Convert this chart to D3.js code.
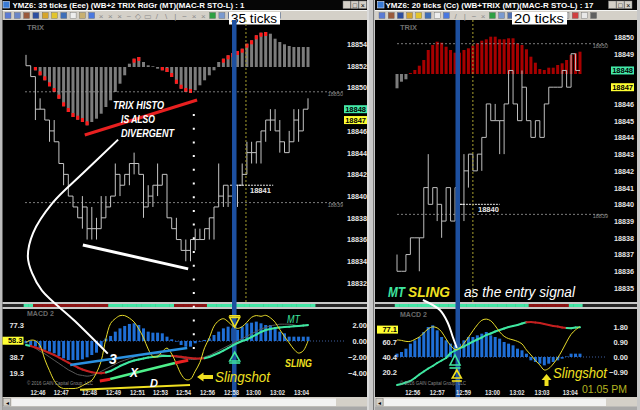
<!DOCTYPE html>
<html>
<head>
<meta charset="utf-8">
<script src="https://cdn.jsdelivr.net/npm/d3@7/dist/d3.min.js"></script>
<style>
  html, body { margin:0; padding:0; background:#000; overflow:hidden; }
  svg { display:block; }
  text { font-family: "Liberation Sans", Arial, sans-serif; }
</style>
</head>
<body>
<div id="chart"></div>
<script>
// ================= DATA =================
const leftTitle = "YMZ6: 35 ticks (Eee) (WB+2 TRIX RdGr (MT)(MAC-R STO-L) : 1";
const rightTitle = "YMZ6: 20 ticks (Cc)  (WB+TRIX (MT)(MAC-R STO-L) : 17";
const leftTicksLabel = "35 ticks";
const rightTicksLabel = "20 ticks";

// left chart (35 ticks) – price bars
const leftLow   = [18852,18851,18847,18848,18847,18845,18845,18843,18841,18840,18839,18838,18837,18836,18836,18836,18837,18838,18839,18840,18840,18841,18841,18842,18842,18838,18839,18839,18840,18841,18838,18837,18836,18835,18834,18834,18835,18836,18836,18836,18836,18839,18839,18839,18839,18839,18841,18842,18843,18843,18843,18845,18846,18846,18844,18844,18844,18845,18845,18847,18848];
const leftHigh  = [18853,18852,18851,18849,18848,18847,18847,18845,18843,18842,18840,18839,18840,18839,18839,18838,18840,18840,18840,18843,18842,18842,18843,18844,18843,18842,18841,18841,18843,18842,18842,18838,18838,18836,18836,18836,18837,18837,18837,18838,18839,18843,18841,18841,18841,18841,18843,18845,18845,18845,18846,18847,18848,18848,18847,18845,18846,18848,18848,18848,18849];
const leftClose = [18852,18851,18848,18848,18847,18846,18845,18843,18842,18840,18839,18838,18839,18837,18837,18837,18838,18839,18840,18842,18841,18842,18843,18843,18842,18839,18840,18841,18841,18842,18838,18837,18836,18835,18835,18836,18836,18836,18837,18838,18839,18840,18841,18840,18841,18841,18842,18844,18844,18845,18846,18847,18847,18846,18845,18844,18845,18847,18846,18848,18848];
// left TRIX histogram (starts at bar index 2)
const leftTrixStart = 2;
const leftTrix = [-0.33,-0.83,-1.33,-1.93,-2.5,-3.17,-3.93,-4.5,-5.0,-5.27,-5.5,-5.83,-5.5,-5.17,-4.67,-4.0,-3.33,-2.5,-1.67,-0.83,0.33,0.83,1.0,0.5,0.17,0.07,-0.17,-0.33,-0.5,-1.0,-1.67,-2.17,-2.5,-2.6,-2.33,-1.83,-1.33,-0.83,-0.33,0.5,0.83,1.17,1.4,1.6,1.83,2.33,2.67,3.17,3.43,3.5,3.33,2.83,2.5,2.27,2.1,2.0,2.0,2.0,2.0];
// left MACD pane
const leftHist   = [-0.29,-0.5,-0.7,-0.92,-1.1,-1.33,-1.54,-1.88,-2.17,-2.38,-2.38,-2.38,-2.3,-2.04,-1.75,-1.46,-0.7,0.3,0.63,1.17,1.58,1.88,2.13,2.21,2.0,1.58,1.17,1.04,1.04,0.96,0.54,0.21,-0.08,-0.5,-0.71,-0.71,-0.29,-0.08,0.13,0.33,0.75,1.17,1.58,1.79,1.58,1.38,1.79,2.21,2.29,2.42,2.21,2.0,2.0,1.58,1.17,0.96,0.54,0.54,0.54,0.54,0.54];
const leftStoch  = [56.4,58.9,58.3,52.4,35.7,22.1,10.2,3.1,0.5,0.5,0.5,1.2,4,7,10.5,19.6,33.9,60.7,79.1,85,88.6,88.6,85.6,80.9,72.6,61.9,48.2,39.2,39.2,45.2,49.4,42.3,30.4,17.9,11.3,11.9,21.4,32.1,49.8,61.7,75.9,82.5,84.9,81.3,76,73.2,75.3,80.6,86.6,88.7,87.8,89,86,80.6,71.7,63.4,55.7,48,43.4,46.2,58];
const leftMT     = [-0.5,-0.63,-0.81,-1.0,-1.25,-1.5,-1.75,-2.06,-2.38,-2.69,-3.0,-3.31,-3.56,-3.75,-3.91,-4.0,-4.04,-3.94,-3.75,-3.44,-3.13,-2.88,-2.63,-2.44,-2.31,-2.19,-2.06,-2.0,-1.94,-1.88,-1.88,-1.88,-1.91,-1.96,-2.06,-2.13,-2.19,-2.19,-2.16,-2.0,-1.75,-1.5,-1.19,-0.88,-0.56,-0.25,0.0,0.19,0.5,0.81,1.13,1.38,1.5,1.63,1.69,1.75,1.79,1.84,1.88,1.94,2.0];
const leftSignal = [-0.5,-0.6,-0.9,-1.3,-1.6,-2.0,-2.4,-2.8,-3.2,-3.6,-3.9,-4.2,-4.3,-4.4,-4.3,-4.1,-3.8,-3.5,-3.2,-2.9,-2.6,-2.4,-2.2,-2.0,-1.8,-1.7,-1.6,-1.6,-1.6,-1.7,-1.8,-1.9,-2.0,-2.1,-2.2,-2.3,-2.3,-2.2,-2.0,-1.8,-1.5,-1.2,-0.9,-0.6,-0.3,0.0,0.3,0.6,0.9,1.2,1.5,1.7,1.9,2.0,2.1,2.1,2.1,2.0,1.9,1.9,1.9];
const leftTrend  = "ggrrrrrrrrrrrrrrrrggggggggggggggrrrrrrrggggggggggggggggggggggg".split("");
const leftTimeLabels = ["12:46","12:47","12:48","12:49","12:51","12:53","12:54","12:56","12:58","13:00","13:02","13:04"];
const leftTimeIdx    = [2.45, 7.4, 13.4, 18.5, 23.6, 28.5, 33.4, 38.5, 43.6, 48.3, 53.4, 58.5];
const leftPriceTicks = [18854,18852,18850,18846,18844,18842,18840,18838,18836,18834,18832];
const leftPriceBoxes = [18848, 18847];
const leftStochTicks = [77.3, 38.7, 19.3];
const leftStochBox = 58.3;
const leftMacdTicks = [2, 0, -2, -4];

// right chart (20 ticks)
const rightLow   = [18836,18836,18836,18837,18838,18836,18839,18840,18840,18839,18838,18839,18839,18839,18839,18839,18841,18842,18842,18842,18844,18845,18845,18843,18843,18846,18846,18845,18845,18845,18844,18844,18844,18844,18846,18847,18847,18847,18847,18847,18848,18848];
const rightHigh  = [18837,18836,18837,18838,18838,18838,18841,18843,18841,18841,18840,18841,18841,18841,18840,18843,18843,18843,18843,18844,18846,18846,18846,18845,18846,18848,18848,18846,18848,18846,18845,18845,18845,18846,18847,18847,18847,18848,18848,18849,18849,18848];
const rightClose = [18836,18836,18837,18838,18838,18838,18841,18840,18841,18840,18839,18841,18839,18841,18840,18842,18843,18842,18843,18844,18846,18845,18845,18845,18846,18848,18846,18845,18847,18845,18844,18845,18844,18846,18847,18847,18847,18848,18847,18849,18848,18848];
const rightTrix  = [-1.43,-0.77,-0.53,0.1,0.4,0.83,1.4,2.4,2.9,3.23,3.13,2.73,2.4,2.13,2.13,2.4,2.57,2.83,3.07,3.33,3.47,3.73,3.73,3.47,3.47,3.57,3.57,3.07,2.9,2.47,1.73,1.13,0.5,0.4,0.63,0.63,0.9,1.07,1.4,1.9,2.07,2.23];
const rightHist  = [0.2,0.3,0.5,0.8,1.0,1.2,1.5,1.8,1.9,1.6,1.2,1.0,0.8,0.7,0.8,1.0,1.2,1.2,1.3,1.4,1.5,1.3,1.2,1.1,0.9,0.8,0.7,0.5,0.4,0.2,-0.2,-0.3,-0.4,-0.5,-0.4,-0.3,-0.2,-0.1,0.03,0.2,0.2,0.2];
const rightStoch = [63.3,62.6,61.3,61.3,64.0,67.3,72.7,78.1,80.8,79.4,74.1,64.6,55.9,50.5,51.9,58.6,66.7,75.4,83.5,89.6,91.2,88.9,82.2,74.1,68.1,65.0,63.3,61.3,57.9,49.8,43.1,35.7,29.6,22.9,24.9,31.0,39.1,49.2,60.6,70.7,76.8,81.2];
const rightMT    = [-1.68,-1.62,-1.53,-1.44,-1.26,-1.05,-0.87,-0.69,-0.54,-0.36,-0.21,-0.06,0.24,0.39,0.52,0.63,0.78,0.92,1.05,1.17,1.32,1.41,1.53,1.62,1.71,1.80,1.86,1.92,2.01,2.08,2.10,2.07,2.04,1.98,1.92,1.86,1.83,1.77,1.74,1.72,1.77,1.78];
const rightTrend = "ggggggggggggggggggggggggggggggrrrrrrrrrggg".split("");
const rightTimeLabels = ["12:56","12:57","12:59","13:00","13:02","13:03","13:04"];
const rightTimeIdx    = [3.4, 8.9, 14.8, 21.3, 26.8, 32.4, 38.7];
const rightPriceTicks = [18850,18849,18846,18845,18844,18843,18842,18841,18840,18839,18838,18837,18836,18835];
const rightPriceBoxes = [18848, 18847];
const rightStochTicks = [60.7, 40.4, 20.2];
const rightStochBox = 77.1;
const rightMacdTicks = [1.8, 0.9, 0, -0.9];

// reference lines / markers (data coordinates)
const leftRefLines = [{v:18849.6, label:"18850"}, {v:18839.4, label:"18839"}];
const rightRefLines = [{v:18849.6, label:"18850"}, {v:18839.4, label:"18839"}];
const leftEntry = {from:43.4, to:52.6, v:18841, label:"18841"};
const rightEntry = {from:14.1, to:23, v:18840, label:"18840"};
const leftSignalBar = 44.3, rightSignalBar = 13.6;
const leftCursor = 46.8, rightCursor = 17;
const leftDotted = 35.7;

// annotations (data coordinates)
const trixDivergence  = [[12.5,-6.8],[36.4,-3.3]];
const priceDivergence = [[12.1,18835.5],[34.5,18833.3]];
const bigCurve = [[19.6,18845.2],[12.1,18842.1],[5.7,18839.4],[1.5,18836.6],[0.4,18834.4],[1.3,18832.9],[3.4,18831.3],[10.4,18828.5],[17.4,18825.5]];
const line3 = [[9.4,-3.0],[34.3,-0.88]];
const lineX = [[17.9,-4.75],[31.7,-2.75]];
const lineXRed = [[[15.7,-5.0],[17.9,-4.78]],[[31.7,-2.75],[34.5,-2.4]]];
const lineD = [[11.5,-6.1],[34.9,-5.5]];
const rightCurve = [[5.8,3.42],[9.6,2.82],[11.4,2.04],[12.5,1.2],[13.4,0.54]];

// ================= DRAWING =================
const W = 640, H = 410;
const svg = d3.select("#chart").append("svg").attr("width", W).attr("height", H);
svg.append("rect").attr("width", W).attr("height", H).attr("fill", "#000");

const xL = d3.scaleLinear().domain([0,60]).range([26,308]);
const xR = d3.scaleLinear().domain([0,41]).range([397,580]);
const yPL = d3.scaleLinear().domain([18832,18854]).range([283,44]);
const yPR = d3.scaleLinear().domain([18835,18850]).range([288,37]);
const yTL = d3.scaleLinear().domain([0,1]).range([67,57]);
const yTR = d3.scaleLinear().domain([0,1]).range([74,64]);
const yML = d3.scaleLinear().domain([-4,2]).range([373,325]);
const ySL = d3.scaleLinear().domain([19.3,77.3]).range([373,325]);
const yMR = d3.scaleLinear().domain([-0.9,1.8]).range([372,327]);
const ySR = d3.scaleLinear().domain([20.2,77.1]).range([372,329.6]);

const YEL = "#e8dc2a";
const stripCol = {g:"#44e6a6", r:"#8c1414"};
const mtCol = {g:"#3fe6a0", r:"#c42020"};

// ---------- window chrome ----------
function chrome(c) {
  const g = svg.append("g");
  const w = c.x1 - c.x0;
  g.append("rect").attr("x", c.x0).attr("y", 0).attr("width", w).attr("height", 10).attr("fill", "#060606");
  g.append("rect").attr("x", c.iconX).attr("y", 1.5).attr("width", 6.5).attr("height", 6.5).attr("fill", "#3a7bd5").attr("stroke", "#d8e6ff").attr("stroke-width", 0.6);
  g.append("text").attr("x", c.titleX).attr("y", 8).attr("fill", "#fff").attr("font-size", 8).attr("font-weight", "bold")
    .attr("textLength", c.titleLen).attr("lengthAdjust", "spacingAndGlyphs").text(c.title);
  ["_", "\u25A1", "\u00D7"].forEach((s, k) => {
    const bx = c.btnX + k * 8;
    g.append("rect").attr("x", bx).attr("y", 1).attr("width", 7.5).attr("height", 7.5).attr("fill", "#d4d0c8").attr("stroke", "#808080").attr("stroke-width", 0.5);
    g.append("text").attr("x", bx + 3.75).attr("y", 7.5).attr("text-anchor", "middle").attr("font-size", 7).attr("fill", "#000").text(s);
  });
  g.append("rect").attr("x", c.x0).attr("y", 10).attr("width", w).attr("height", 10).attr("fill", "#d4d0c8");
  g.append("line").attr("x1", c.x0).attr("x2", c.x1).attr("y1", 10.5).attr("y2", 10.5).attr("stroke", "#fff").attr("stroke-width", 0.8);
  c.icons.forEach((ic, k) => {
    const ix = c.iconStart + k * c.iconStep;
    if (ic.startsWith("#")) {
      g.append("rect").attr("x", ix).attr("y", 12.5).attr("width", 6).attr("height", 6).attr("fill", ic).attr("stroke", "#6a6a6a").attr("stroke-width", 0.4);
    } else {
      g.append("text").attr("x", ix + 3).attr("y", 18.5).attr("text-anchor", "middle").attr("font-size", 8).attr("fill", "#8a8a8a").text(ic);
    }
  });
  g.append("rect").attr("x", c.tickBoxX).attr("y", 12).attr("width", c.tickBoxW).attr("height", 12.5).attr("fill", "#fff");
  g.append("text").attr("x", c.tickBoxX + 2).attr("y", 22.5).attr("font-size", 12).attr("fill", "#000")
    .attr("textLength", c.tickBoxW - 5).attr("lengthAdjust", "spacingAndGlyphs").text(c.ticksLabel);
  g.append("rect").attr("x", c.x0).attr("y", 302).attr("width", w).attr("height", 7).attr("fill", "#c8c8c8");
  g.append("rect").attr("x", c.x0).attr("y", 304).attr("width", w).attr("height", 3).attr("fill", "#262626");
  g.append("rect").attr("x", c.x0).attr("y", 397).attr("width", w).attr("height", 13).attr("fill", "#d4d0c8");
  g.append("rect").attr("x", c.x0 + 9).attr("y", 398.5).attr("width", w - 40).attr("height", 7.5).attr("fill", "#f2f2f2");
  g.append("rect").attr("x", c.x0 + 1).attr("y", 398.5).attr("width", 7).attr("height", 7.5).attr("fill", "#d4d0c8").attr("stroke", "#808080").attr("stroke-width", 0.5);
  g.append("text").attr("x", c.x0 + 4.5).attr("y", 405).attr("text-anchor", "middle").attr("font-size", 6).attr("fill", "#000").text("\u25C2");
  g.append("rect").attr("x", c.x0).attr("y", 406.5).attr("width", w).attr("height", 3.5).attr("fill", "#a8a8a8");
}

svg.append("rect").attr("x", 0).attr("y", 0).attr("width", 2.5).attr("height", H).attr("fill", "#bdbdbd");
svg.append("rect").attr("x", 367).attr("y", 0).attr("width", 8).attr("height", H).attr("fill", "#c8c8c8");
svg.append("line").attr("x1", 368).attr("x2", 368).attr("y1", 0).attr("y2", H).attr("stroke", "#eeeeee");
svg.append("line").attr("x1", 373.5).attr("x2", 373.5).attr("y1", 0).attr("y2", H).attr("stroke", "#7a7a7a");
svg.append("rect").attr("x", 637).attr("y", 0).attr("width", 3).attr("height", H).attr("fill", "#c8c8c8");

chrome({x0:2.5, x1:367, iconX:3, titleX:12.5, titleLen:232, title:leftTitle, btnX:343,
  icons:["#5b7bd5","#6a86c8","#9a5a3c","#2d4fa0","#d6a52a","#e3c52d","#3f6fb8","#eeeeee","#c8b070","#4a78e0","\u00D7","\u00D7","\u00D7","~","\u25C7","\u25AD","/","\\","|","\u2212","\u00D7","\u00D7","#2ea043","#7a9ad0","#5070b0","#c0c0c0","#d04040","#e8e8e8","#606060","#7a9ad0"],
  iconStart:5, iconStep:9.3, tickBoxX:229, tickBoxW:51, ticksLabel:leftTicksLabel});
chrome({x0:375, x1:637, iconX:377.5, titleX:385.5, titleLen:208, title:rightTitle, btnX:608.5,
  icons:["#5b7bd5","#9a5a3c","#2d4fa0","#d6a52a","#e3c52d","#3f6fb8","#eeeeee","#4a78e0","/","|","\u2212","\u00D7","#2ea043","#7a9ad0","#5070b0","#c0c0c0","#d04040","#e8e8e8","#606060","#7a9ad0","#c0c0c0","#d04040","#e8e8e8","#606060"],
  iconStart:379, iconStep:9.2, tickBoxX:512, tickBoxW:55, ticksLabel:rightTicksLabel});

// ---------- helpers ----------
function drawPrice(g, x, y, lo, hi, cl, color) {
  lo.forEach((l, i) => {
    const prev = i > 0 ? cl[i-1] : cl[i];
    const a = Math.min(l, prev), b = Math.max(hi[i], prev);
    g.append("line").attr("x1", x(i)).attr("x2", x(i)).attr("y1", y(a)).attr("y2", y(b))
      .attr("stroke", color).attr("stroke-width", 1);
    if (i < lo.length - 1)
      g.append("line").attr("x1", x(i)).attr("x2", x(i+1)).attr("y1", y(cl[i])).attr("y2", y(cl[i]))
        .attr("stroke", color).attr("stroke-width", 1);
  });
}
function styleAxis(g, size, color, len) {
  g.select(".domain").remove();
  g.selectAll("text").attr("fill", color).attr("font-size", size).attr("font-weight", "bold")
    .attr("font-family", "Liberation Sans, Arial, sans-serif");
  if (len) g.selectAll("text").attr("textLength", len).attr("lengthAdjust", "spacingAndGlyphs");
}
function valueBox(g, xRight, w, yc, label, fill) {
  g.append("rect").attr("x", xRight - w).attr("y", yc - 4).attr("width", w).attr("height", 8).attr("fill", fill);
  g.append("text").attr("x", xRight - 1).attr("y", yc + 2.7).attr("text-anchor", "end").attr("font-size", 7.5)
    .attr("font-weight", "bold").attr("fill", "#000").text(label);
}
function refLine(g, x1, x2, yv, label, labelX) {
  g.append("line").attr("x1", x1).attr("x2", x2).attr("y1", yv).attr("y2", yv).attr("stroke", "#9a9a9a")
    .attr("stroke-width", 0.8).attr("stroke-dasharray", "2,2");
  g.append("text").attr("x", labelX).attr("y", yv + 4).attr("text-anchor", "end").attr("font-size", 5.5).attr("fill", "#8a8a8a").text(label);
}
function segLine(g, vals, trend, x, y, cols, width) {
  for (let i = 0; i < vals.length - 1; i++) {
    g.append("line").attr("x1", x(i)).attr("y1", y(vals[i])).attr("x2", x(i+1)).attr("y2", y(vals[i+1]))
      .attr("stroke", cols[trend[i+1]]).attr("stroke-width", width).attr("stroke-linecap", "round");
  }
}
function tri(g, cx, yApex, yBase, barY, halfW, color) {
  g.append("path").attr("d", `M${cx},${yApex}L${cx+halfW},${yBase}L${cx-halfW},${yBase}Z`)
    .attr("fill", "none").attr("stroke", color).attr("stroke-width", 1.6);
  g.append("line").attr("x1", cx - halfW - 0.5).attr("x2", cx + halfW + 0.5).attr("y1", barY).attr("y2", barY)
    .attr("stroke", color).attr("stroke-width", 1.6);
}
function txt(g, x, y, s, o) {
  const t = g.append("text").attr("x", x).attr("y", y).attr("fill", o.fill).attr("font-size", o.size)
    .attr("font-style", o.italic ? "italic" : "normal").attr("font-weight", o.bold ? "bold" : "normal").text(s);
  if (o.len) t.attr("textLength", o.len).attr("lengthAdjust", "spacingAndGlyphs");
  if (o.anchor) t.attr("text-anchor", o.anchor);
  return t;
}

// ================= LEFT WINDOW =================
const L = svg.append("g");
txt(L, 27, 30, "TRIX", {fill:"#6e6e6e", size:7.5, bold:true});
const stepL = xL(1) - xL(0);
leftTrix.forEach((v, k) => {
  const i = k + leftTrixStart, x = xL(i) - 1.5;
  const y0 = yTL(0), y1 = yTL(v);
  L.append("rect").attr("x", x).attr("y", Math.min(y0, y1)).attr("width", 3).attr("height", Math.abs(y1 - y0)).attr("fill", "#7c7c7c");
  const prev = k > 0 ? leftTrix[k-1] : 0;
  if (Math.abs(v) > Math.abs(prev) && Math.sign(v) === Math.sign(prev || v)) {
    const h = Math.min(4, Math.abs(y1 - y0));
    L.append("rect").attr("x", x).attr("y", v < 0 ? y1 - h : y1).attr("width", 3).attr("height", h).attr("fill", "#ff1a1a");
  }
});
leftRefLines.forEach(r => refLine(L, 25, 345, yPL(r.v), r.label, 343));
drawPrice(L, xL, yPL, leftLow, leftHigh, leftClose, "#c4c4c4");
L.append("line").attr("x1", xL(leftEntry.from)).attr("x2", xL(leftEntry.to)).attr("y1", yPL(leftEntry.v)).attr("y2", yPL(leftEntry.v))
  .attr("stroke", "#fff").attr("stroke-dasharray", "2,1").attr("stroke-width", 0.9);
txt(L, xL(leftEntry.from) + 20, yPL(leftEntry.v) + 8, leftEntry.label, {fill:"#e8e8e8", size:7.5, bold:true});

const axPL = L.append("g").attr("transform", "translate(368,0)")
  .call(d3.axisLeft(yPL).tickValues(leftPriceTicks).tickSize(0).tickPadding(1).tickFormat(d3.format("d")));
styleAxis(axPL, 7.5, "#e6e6e6", 20);
valueBox(L, 367, 23, yPL(leftPriceBoxes[0]), String(leftPriceBoxes[0]), "#44e8a8");
valueBox(L, 367, 23, yPL(leftPriceBoxes[1]), String(leftPriceBoxes[1]), "#ffff33");

leftTrend.forEach((t, i) => L.append("rect").attr("x", xL(i) - stepL/2).attr("y", 304).attr("width", stepL + 0.4).attr("height", 3).attr("fill", stripCol[t]));

txt(L, 27, 316, "MACD 2", {fill:"#6a6a6a", size:7, bold:true});
L.append("line").attr("x1", 25).attr("x2", 345).attr("y1", yML(0)).attr("y2", yML(0)).attr("stroke", "#3f5f9f").attr("stroke-dasharray", "1,2");
leftHist.forEach((v, i) => {
  const y0 = yML(0), y1 = yML(v);
  L.append("rect").attr("x", xL(i) - 1.5).attr("y", Math.min(y0, y1)).attr("width", 3).attr("height", Math.max(0.5, Math.abs(y1 - y0))).attr("fill", "#1f6fd6");
});
L.append("rect").attr("x", xL(leftSignalBar) - 2.2).attr("y", 20).attr("width", 4.5).attr("height", 377).attr("fill", "#1d50a0");
L.append("line").attr("x1", xL(leftCursor)).attr("x2", xL(leftCursor)).attr("y1", 20).attr("y2", 302).attr("stroke", "#a8a030").attr("stroke-dasharray", "2,2");

L.append("path").datum(leftSignal).attr("d", d3.line().x((d, i) => xL(i)).y(d => yML(d)).curve(d3.curveCatmullRom))
  .attr("fill", "none").attr("stroke", "#5a5a5a").attr("stroke-width", 1);
segLine(L, leftMT, leftTrend, xL, yML, mtCol, 2);
L.append("path").datum(leftStoch).attr("d", d3.line().x((d, i) => xL(i)).y(d => ySL(d)).curve(d3.curveCatmullRom))
  .attr("fill", "none").attr("stroke", YEL).attr("stroke-width", 1);

const axSL = L.append("g").attr("transform", "translate(25,0)")
  .call(d3.axisLeft(ySL).tickValues(leftStochTicks).tickSize(0).tickPadding(1).tickFormat(d3.format(".1f")));
styleAxis(axSL, 7.5, "#e6e6e6");
valueBox(L, 23.5, 21, ySL(leftStochBox), leftStochBox.toFixed(1), "#ffff33");
const axML = L.append("g").attr("transform", "translate(368,0)")
  .call(d3.axisLeft(yML).tickValues(leftMacdTicks).tickSize(0).tickPadding(1).tickFormat(d3.format(".2f")));
styleAxis(axML, 7.5, "#e6e6e6");
const axTL = L.append("g").attr("transform", "translate(0,389)")
  .call(d3.axisBottom(xL).tickValues(leftTimeIdx).tickSize(0).tickPadding(1).tickFormat((d, i) => leftTimeLabels[i]));
styleAxis(axTL, 7.5, "#e6e6e6", 15);
txt(L, 27, 385, "\u00A9 2016 GAIN Capital Group, LLC", {fill:"#8a8a8a", size:4.6, len:66});

// ---------- left annotations ----------
L.append("path").datum(trixDivergence).attr("d", d3.line().x(d => xL(d[0])).y(d => yTL(d[1])))
  .attr("stroke", "#e82020").attr("stroke-width", 3);
L.append("path").datum(priceDivergence).attr("d", d3.line().x(d => xL(d[0])).y(d => yPL(d[1])))
  .attr("stroke", "#fff").attr("stroke-width", 3);
txt(L, 113, 109, "TRIX HISTO", {fill:"#fff", size:11, bold:true, italic:true, len:51});
txt(L, 121, 123, "IS ALSO", {fill:"#fff", size:11, bold:true, italic:true, len:34});
txt(L, 121, 137, "DIVERGENT", {fill:"#fff", size:11, bold:true, italic:true, len:53});
L.append("line").attr("x1", xL(leftDotted)).attr("x2", xL(leftDotted)).attr("y1", 114).attr("y2", 350)
  .attr("stroke", "#fff").attr("stroke-width", 2).attr("stroke-dasharray", "2,11.7");
L.append("path").datum(line3).attr("d", d3.line().x(d => xL(d[0])).y(d => yML(d[1])))
  .attr("stroke", "#2a90e0").attr("stroke-width", 2.5);
L.append("path").datum(lineX).attr("d", d3.line().x(d => xL(d[0])).y(d => yML(d[1])))
  .attr("stroke", "#4ef08a").attr("stroke-width", 2.5);
lineXRed.forEach(seg => L.append("path").datum(seg).attr("d", d3.line().x(d => xL(d[0])).y(d => yML(d[1])))
  .attr("stroke", "#e82020").attr("stroke-width", 3));
L.append("path").datum(lineD).attr("d", d3.line().x(d => xL(d[0])).y(d => yML(d[1])))
  .attr("stroke", "#f0e020").attr("stroke-width", 2);
L.append("path").datum(bigCurve).attr("d", d3.line().x(d => xL(d[0])).y(d => yPL(d[1])).curve(d3.curveCatmullRom.alpha(0.5)))
  .attr("fill", "none").attr("stroke", "#fff").attr("stroke-width", 2);
txt(L, 109, 364, "3", {fill:"#fff", size:14, bold:true, italic:true});
txt(L, 130, 377, "X", {fill:"#fff", size:12, bold:true, italic:true});
txt(L, 150, 386.5, "D", {fill:"#fff", size:11, bold:true, italic:true});
const arrowY = 377;
L.append("path").attr("d", `M${197},${arrowY}L${203.5},${arrowY-4.5}L${203.5},${arrowY-2}L${213},${arrowY-2}L${213},${arrowY+2}L${203.5},${arrowY+2}L${203.5},${arrowY+4.5}Z`).attr("fill", "#f0e020");
txt(L, 215, 382, "Slingshot", {fill:"#f0e020", size:14, italic:true, len:55});
const sx = xL(leftSignalBar) + 0.5;
tri(L, sx, yML(1.75), yML(2.95), yML(3.15), 5, "#f0e020");
tri(L, sx, yML(-1.4), yML(-2.5), yML(-2.75), 5, "#3fe6a0");
txt(L, 287, 323, "MT", {fill:"#3fe6a0", size:10.5, italic:true, len:13});
txt(L, 285, 367, "SLING", {fill:"#f0e020", size:10, bold:true, italic:true, len:27});

// ================= RIGHT WINDOW =================
const R = svg.append("g");
txt(R, 400, 30, "TRIX", {fill:"#6e6e6e", size:7.5, bold:true});
const stepR = xR(1) - xR(0);
rightTrix.forEach((v, i) => {
  const y0 = yTR(0), y1 = yTR(v);
  R.append("rect").attr("x", xR(i) - 1.5).attr("y", Math.min(y0, y1)).attr("width", 3).attr("height", Math.abs(y1 - y0))
    .attr("fill", v < 0 ? "#7c7c7c" : "#a80000");
});
rightRefLines.forEach(r => refLine(R, 397, 607, yPR(r.v), r.label, 608));
drawPrice(R, xR, yPR, rightLow, rightHigh, rightClose, "#bdbdbd");
R.append("line").attr("x1", xR(rightEntry.from)).attr("x2", xR(rightEntry.to)).attr("y1", yPR(rightEntry.v)).attr("y2", yPR(rightEntry.v))
  .attr("stroke", "#fff").attr("stroke-dasharray", "2,1").attr("stroke-width", 0.9);
txt(R, 478, yPR(rightEntry.v) + 8, rightEntry.label, {fill:"#e8e8e8", size:7.5, bold:true});
const axPR = R.append("g").attr("transform", "translate(635,0)")
  .call(d3.axisLeft(yPR).tickValues(rightPriceTicks).tickSize(0).tickPadding(1).tickFormat(d3.format("d")));
styleAxis(axPR, 7.5, "#e6e6e6", 20);
valueBox(R, 634, 23, yPR(rightPriceBoxes[0]), String(rightPriceBoxes[0]), "#44e8a8");
valueBox(R, 634, 23, yPR(rightPriceBoxes[1]), String(rightPriceBoxes[1]), "#ffff33");

rightTrend.forEach((t, i) => R.append("rect").attr("x", xR(i) - stepR/2).attr("y", 304).attr("width", stepR + 0.4).attr("height", 3).attr("fill", stripCol[t]));

txt(R, 400, 317, "MACD 2", {fill:"#6a6a6a", size:7, bold:true});
R.append("line").attr("x1", 397).attr("x2", 605).attr("y1", yMR(0)).attr("y2", yMR(0)).attr("stroke", "#3f5f9f").attr("stroke-dasharray", "1,2");
rightHist.forEach((v, i) => {
  const y0 = yMR(0), y1 = yMR(v);
  R.append("rect").attr("x", xR(i) - 1.5).attr("y", Math.min(y0, y1)).attr("width", 3).attr("height", Math.max(0.5, Math.abs(y1 - y0))).attr("fill", "#1f6fd6");
});
R.append("rect").attr("x", xR(rightSignalBar) - 2.2).attr("y", 20).attr("width", 4.5).attr("height", 377).attr("fill", "#1d50a0");
R.append("line").attr("x1", xR(rightCursor)).attr("x2", xR(rightCursor)).attr("y1", 20).attr("y2", 302).attr("stroke", "#a8a030").attr("stroke-dasharray", "2,2");
segLine(R, rightMT, rightTrend, xR, yMR, mtCol, 2);
R.append("path").datum(rightStoch).attr("d", d3.line().x((d, i) => xR(i)).y(d => ySR(d)).curve(d3.curveCatmullRom))
  .attr("fill", "none").attr("stroke", YEL).attr("stroke-width", 1);

const axSR = R.append("g").attr("transform", "translate(398,0)")
  .call(d3.axisLeft(ySR).tickValues(rightStochTicks).tickSize(0).tickPadding(1).tickFormat(d3.format(".1f")));
styleAxis(axSR, 7.5, "#e6e6e6");
valueBox(R, 398, 21, ySR(rightStochBox), rightStochBox.toFixed(1), "#ffff33");
const axMR = R.append("g").attr("transform", "translate(629,0)")
  .call(d3.axisLeft(yMR).tickValues(rightMacdTicks).tickSize(0).tickPadding(1).tickFormat(d3.format(".2f")));
styleAxis(axMR, 7.5, "#e6e6e6");
const axTR = R.append("g").attr("transform", "translate(0,389)")
  .call(d3.axisBottom(xR).tickValues(rightTimeIdx).tickSize(0).tickPadding(1).tickFormat((d, i) => rightTimeLabels[i]));
styleAxis(axTR, 7.5, "#e6e6e6", 15);
txt(R, 400, 385, "\u00A9 2016 GAIN Capital Group, LLC", {fill:"#8a8a8a", size:4.6, len:66});

// ---------- right annotations ----------
txt(R, 388, 297, "MT", {fill:"#3fe6a0", size:14, bold:true, italic:true, len:17});
txt(R, 408, 297, "SLING", {fill:"#f0e020", size:14, bold:true, italic:true, len:42});
txt(R, 464, 297, "as the entry signal", {fill:"#fff", size:14, italic:true, len:111});
R.append("path").datum(rightCurve).attr("d", d3.line().x(d => xR(d[0])).y(d => yMR(d[1])).curve(d3.curveCatmullRom.alpha(0.5)))
  .attr("fill", "none").attr("stroke", "#fff").attr("stroke-width", 2);
tri(R, xR(13), yMR(0.12), yMR(-0.48), yMR(-0.66), 5, "#3fe6a0");
tri(R, xR(13.4), yMR(-0.78), yMR(-1.26), yMR(-1.44), 4.5, "#f0e020");
const ax2 = xR(33.5);
R.append("path").attr("d", `M${ax2},374L${ax2+5},380L${ax2+2},380L${ax2+2},386L${ax2-2},386L${ax2-2},380L${ax2-5},380Z`).attr("fill", "#f0e020");
txt(R, 553, 378, "Slingshot", {fill:"#f0e020", size:14, italic:true, len:54});
txt(R, 582, 393, "01.05 PM", {fill:"#b4b420", size:10, len:45});
</script>
</body>
</html>
